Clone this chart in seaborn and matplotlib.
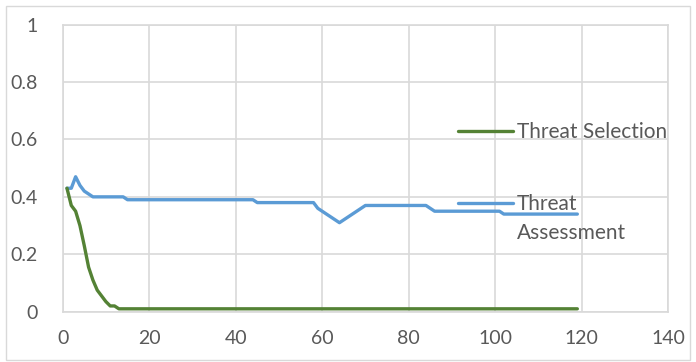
import matplotlib
matplotlib.use("Agg")
import matplotlib.pyplot as plt
import seaborn as sns
import pandas as pd
from matplotlib.lines import Line2D
from matplotlib.patches import Rectangle

# data (vertices of each line)
sel_x = [1, 2, 3, 4, 5, 6, 7, 8, 9, 10, 11, 12, 13, 119]
sel_y = [0.43, 0.37, 0.35, 0.30, 0.23, 0.155, 0.11, 0.075, 0.055, 0.035, 0.02, 0.02, 0.01, 0.01]

ass_x = [1, 2, 3, 4, 5, 6, 7, 14, 15, 44, 45, 58, 59, 64, 70, 84, 86, 101, 102, 119]
ass_y = [0.43, 0.43, 0.47, 0.44, 0.42, 0.41, 0.40, 0.40, 0.39, 0.39, 0.38, 0.38,
         0.36, 0.31, 0.37, 0.37, 0.35, 0.35, 0.34, 0.34]

x_ticks = [0, 20, 40, 60, 80, 100, 120, 140]
y_ticks = [0, 0.2, 0.4, 0.6, 0.8, 1]
y_labels = ["0", "0.2", "0.4", "0.6", "0.8", "1"]

green = "#548235"
blue = "#5B9BD5"
grid = "#d9d9d9"
txt = "#595959"

sns.set_style("white")
plt.rcParams['font.family'] = ['Lato', 'DejaVu Sans']
fs = 14
lfs = 15

fig = plt.figure(figsize=(6.96, 3.62), dpi=100)
ax = fig.add_axes([0.090, 0.139, 0.870, 0.793])

sel = pd.DataFrame({"x": sel_x, "y": sel_y})
ass = pd.DataFrame({"x": ass_x, "y": ass_y})
sns.lineplot(data=ass, x="x", y="y", color=blue, linewidth=2.4, ax=ax, sort=False)
sns.lineplot(data=sel, x="x", y="y", color=green, linewidth=2.4, ax=ax, sort=False)

ax.set_xlim(0, 140)
ax.set_ylim(0, 1)
ax.set_xticks(x_ticks)
ax.set_yticks(y_ticks)
ax.set_yticklabels(y_labels)
ax.grid(True, color=grid, linewidth=1.2)
ax.set_axisbelow(True)
for s in ax.spines.values():
    s.set_color(grid)
    s.set_linewidth(1.2)
ax.tick_params(length=0, labelsize=fs, labelcolor=txt)
ax.tick_params(axis="x", pad=13)
ax.tick_params(axis="y", pad=18)
ax.set_xlabel("")
ax.set_ylabel("")

# legend
h1 = [Line2D([], [], color=green, linewidth=2.4)]
leg1 = ax.legend(h1, ["Threat Selection"], loc="center left",
                 bbox_to_anchor=(458 / 696, 1 - 132 / 362), bbox_transform=fig.transFigure,
                 frameon=False, fontsize=lfs, handlelength=2.65, handletextpad=0.18,
                 borderpad=0, borderaxespad=0, labelcolor=txt)
ax.add_artist(leg1)
h2 = [Line2D([], [], color=blue, linewidth=2.4), Line2D([], [], color="none")]
leg2 = ax.legend(h2, ["Threat", "Assessment"], loc="upper left",
                 bbox_to_anchor=(458 / 696, 1 - 194 / 362), bbox_transform=fig.transFigure,
                 frameon=False, fontsize=lfs, handlelength=2.65, handletextpad=0.18,
                 borderpad=0, borderaxespad=0, labelspacing=0.45, labelcolor=txt)

fig.patches.append(Rectangle((6 / 696, 2 / 362), 684 / 696, 354 / 362, transform=fig.transFigure,
                             fill=False, edgecolor=grid, linewidth=1))

fig.savefig("out.png", dpi=100)
